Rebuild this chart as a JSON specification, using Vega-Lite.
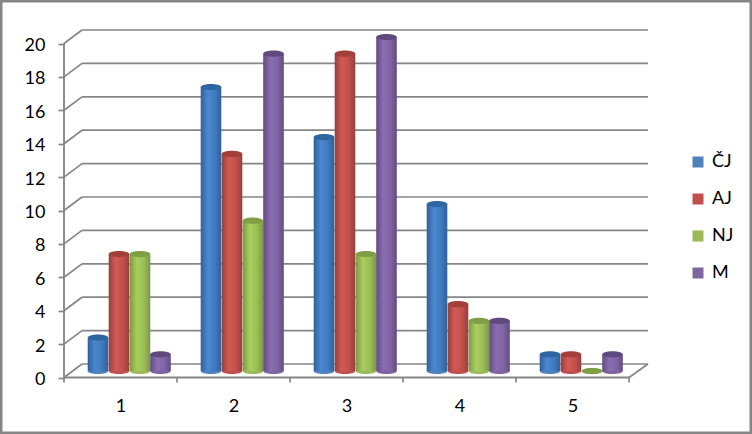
{
"$schema":"https://vega.github.io/schema/vega-lite/v6.json",
"width":752,"height":434,"padding":0,"autosize":{"type":"none"},
"background":"#ffffff",
"config":{"view":{"stroke":"#868686","strokeWidth":5},"font":"Lato"},
"datasets":{
"grid":[{"v":0,"vb":0.808},{"v":2,"vb":2.808},{"v":4,"vb":4.808},{"v":6,"vb":6.808},{"v":8,"vb":8.808},{"v":10,"vb":10.808},{"v":12,"vb":12.808},{"v":14,"vb":14.808},{"v":16,"vb":16.808},{"v":18,"vb":18.808},{"v":20,"vb":20.808}],
"edges":[{"e":0.5},{"e":1.5},{"e":2.5},{"e":3.5},{"e":4.5},{"e":5.5}],
"marks":[
{"cat":1,"series":"ČJ","value":2},{"cat":1,"series":"AJ","value":7},{"cat":1,"series":"NJ","value":7},{"cat":1,"series":"M","value":1},
{"cat":2,"series":"ČJ","value":17},{"cat":2,"series":"AJ","value":13},{"cat":2,"series":"NJ","value":9},{"cat":2,"series":"M","value":19},
{"cat":3,"series":"ČJ","value":14},{"cat":3,"series":"AJ","value":19},{"cat":3,"series":"NJ","value":7},{"cat":3,"series":"M","value":20},
{"cat":4,"series":"ČJ","value":10},{"cat":4,"series":"AJ","value":4},{"cat":4,"series":"NJ","value":3},{"cat":4,"series":"M","value":3},
{"cat":5,"series":"ČJ","value":1},{"cat":5,"series":"AJ","value":1},{"cat":5,"series":"NJ","value":0},{"cat":5,"series":"M","value":1}
]},
"layer":[
{"data":{"name":"grid"},
 "mark":{"type":"rule","color":"#868686","strokeWidth":1.7},
 "encoding":{
  "x":{"datum":0.659,"type":"quantitative","scale":{"domain":[-0.0664,6.5885],"nice":false,"zero":false,"padding":0},
    "axis":{"title":null,"values":[1,2,3,4,5],"ticks":false,"domain":false,"grid":false,"offset":-56.5,"labelPadding":20,"labelFont":"Lato","labelFontSize":18,"labelColor":"#000000","format":"d"}},
  "x2":{"datum":5.668},
  "y":{"field":"vb","type":"quantitative","scale":{"domain":[-3.383,22.605],"nice":false,"zero":false,"padding":0},
    "axis":{"title":null,"values":[0,2,4,6,8,10,12,14,16,18,20],"domain":false,"grid":false,"offset":-64,"tickSize":6,"tickColor":"#868686","tickWidth":1.7,"labelPadding":13,"labelOffset":2,"labelFont":"Lato","labelFontSize":18,"labelColor":"#000000","format":"d"}}
 }},
{"data":{"name":"grid"},
 "mark":{"type":"rule","color":"#868686","strokeWidth":1.7},
 "encoding":{"x":{"datum":0.5,"type":"quantitative","title":null},"x2":{"datum":0.659},"y":{"field":"v","type":"quantitative","title":null},"y2":{"field":"vb"}}},
{"data":{"name":"edges"},
 "mark":{"type":"rule","color":"#868686","strokeWidth":1.7},
 "encoding":{"x":{"field":"e","type":"quantitative","title":null},"y":{"datum":0,"type":"quantitative","title":null},"y2":{"datum":-0.3}}},
{"data":{"values":[{"a":0.5,"b":5.5,"c":0,"d":0},{"a":0.5,"b":0.5,"c":0,"d":20},{"a":5.5,"b":5.668,"c":0,"d":0.808}]},
 "mark":{"type":"rule","color":"#868686","strokeWidth":1.9},
 "encoding":{"x":{"field":"a","type":"quantitative","title":null},"x2":{"field":"b"},"y":{"field":"c","type":"quantitative","title":null},"y2":{"field":"d"}}},
{"data":{"name":"marks"},"transform":[{"filter":"datum.series==='ČJ'"}],
 "layer":[
 {"mark":{"type":"point","filled":true,"opacity":1,"size":424,"xOffset":-22.5,"yOffset":-6.5,"shape":"M-1,0 A1,0.3 0 1 1 1,0 A1,0.3 0 1 1 -1,0 Z"},
  "encoding":{"x":{"field":"cat","type":"quantitative","title":null},"y":{"datum":0,"type":"quantitative","title":null},
   "color":{"field":"series","type":"nominal","scale":{"domain":["ČJ","AJ","NJ","M"],"range":["#4F81BD","#C0504D","#9BBB59","#8064A2"]},
    "legend":{"title":null,"orient":"none","legendX":689,"legendY":153,"symbolType":"square","symbolSize":121,"labelFont":"Lato","labelFontSize":18,"labelColor":"#000000","rowPadding":19,"labelOffset":5,"symbolStrokeWidth":0}}}},
 {"mark":{"type":"bar","orient":"vertical","size":20.6,"xOffset":-22.5,"x2Offset":-22.5,"yOffset":-6.5,"y2Offset":-6.5,"color":{"gradient":"linear","x1":0,"x2":1,"y1":0,"y2":0,"stops":[{"offset":0,"color":"#2f6199"},{"offset":0.35,"color":"#4a88d2"},{"offset":0.7,"color":"#4179bd"},{"offset":1,"color":"#2f6199"}]}},
  "encoding":{"x":{"field":"cat","type":"quantitative","title":null},"y":{"field":"value","type":"quantitative","title":null},"y2":{"datum":0}}},
 {"mark":{"type":"point","filled":true,"opacity":1,"size":424,"color":"#2e669f","xOffset":-22.5,"yOffset":-6.5,"shape":"M-1,0 A1,0.3 0 1 1 1,0 A1,0.3 0 1 1 -1,0 Z"},
  "encoding":{"x":{"field":"cat","type":"quantitative","title":null},"y":{"field":"value","type":"quantitative","title":null}}}
 ]},
{"data":{"name":"marks"},"transform":[{"filter":"datum.series==='AJ'"}],
 "layer":[
 {"mark":{"type":"point","filled":true,"opacity":1,"size":424,"xOffset":-1.5,"yOffset":-6.5,"shape":"M-1,0 A1,0.3 0 1 1 1,0 A1,0.3 0 1 1 -1,0 Z"},
  "encoding":{"x":{"field":"cat","type":"quantitative","title":null},"y":{"datum":0,"type":"quantitative","title":null},"color":{"field":"series","type":"nominal"}}},
 {"mark":{"type":"bar","orient":"vertical","size":20.6,"xOffset":-1.5,"x2Offset":-1.5,"yOffset":-6.5,"y2Offset":-6.5,"color":{"gradient":"linear","x1":0,"x2":1,"y1":0,"y2":0,"stops":[{"offset":0,"color":"#96403c"},{"offset":0.35,"color":"#d55a55"},{"offset":0.7,"color":"#c14f4b"},{"offset":1,"color":"#96403c"}]}},
  "encoding":{"x":{"field":"cat","type":"quantitative","title":null},"y":{"field":"value","type":"quantitative","title":null},"y2":{"datum":0}}},
 {"mark":{"type":"point","filled":true,"opacity":1,"size":424,"color":"#a33f3b","xOffset":-1.5,"yOffset":-6.5,"shape":"M-1,0 A1,0.3 0 1 1 1,0 A1,0.3 0 1 1 -1,0 Z"},
  "encoding":{"x":{"field":"cat","type":"quantitative","title":null},"y":{"field":"value","type":"quantitative","title":null}}}
 ]},
{"data":{"name":"marks"},"transform":[{"filter":"datum.series==='NJ'"}],
 "layer":[
 {"mark":{"type":"point","filled":true,"opacity":1,"size":424,"xOffset":19.5,"yOffset":-6.5,"shape":"M-1,0 A1,0.3 0 1 1 1,0 A1,0.3 0 1 1 -1,0 Z"},
  "encoding":{"x":{"field":"cat","type":"quantitative","title":null},"y":{"datum":0,"type":"quantitative","title":null},"color":{"field":"series","type":"nominal"}}},
 {"mark":{"type":"bar","orient":"vertical","size":20.6,"xOffset":19.5,"x2Offset":19.5,"yOffset":-6.5,"y2Offset":-6.5,"color":{"gradient":"linear","x1":0,"x2":1,"y1":0,"y2":0,"stops":[{"offset":0,"color":"#7c9846"},{"offset":0.35,"color":"#a9cf5e"},{"offset":0.7,"color":"#9bbd57"},{"offset":1,"color":"#7c9846"}]}},
  "encoding":{"x":{"field":"cat","type":"quantitative","title":null},"y":{"field":"value","type":"quantitative","title":null},"y2":{"datum":0}}},
 {"mark":{"type":"point","filled":true,"opacity":1,"size":424,"color":"#7f9e45","xOffset":19.5,"yOffset":-6.5,"shape":"M-1,0 A1,0.3 0 1 1 1,0 A1,0.3 0 1 1 -1,0 Z"},
  "encoding":{"x":{"field":"cat","type":"quantitative","title":null},"y":{"field":"value","type":"quantitative","title":null}}}
 ]},
{"data":{"name":"marks"},"transform":[{"filter":"datum.series==='M'"}],
 "layer":[
 {"mark":{"type":"point","filled":true,"opacity":1,"size":424,"xOffset":40,"yOffset":-6.5,"shape":"M-1,0 A1,0.3 0 1 1 1,0 A1,0.3 0 1 1 -1,0 Z"},
  "encoding":{"x":{"field":"cat","type":"quantitative","title":null},"y":{"datum":0,"type":"quantitative","title":null},"color":{"field":"series","type":"nominal"}}},
 {"mark":{"type":"bar","orient":"vertical","size":20.6,"xOffset":40,"x2Offset":40,"yOffset":-6.5,"y2Offset":-6.5,"color":{"gradient":"linear","x1":0,"x2":1,"y1":0,"y2":0,"stops":[{"offset":0,"color":"#624c80"},{"offset":0.35,"color":"#8b6db2"},{"offset":0.7,"color":"#8064a3"},{"offset":1,"color":"#624c80"}]}},
  "encoding":{"x":{"field":"cat","type":"quantitative","title":null},"y":{"field":"value","type":"quantitative","title":null},"y2":{"datum":0}}},
 {"mark":{"type":"point","filled":true,"opacity":1,"size":424,"color":"#5f4a80","xOffset":40,"yOffset":-6.5,"shape":"M-1,0 A1,0.3 0 1 1 1,0 A1,0.3 0 1 1 -1,0 Z"},
  "encoding":{"x":{"field":"cat","type":"quantitative","title":null},"y":{"field":"value","type":"quantitative","title":null}}}
 ]}
]
}
